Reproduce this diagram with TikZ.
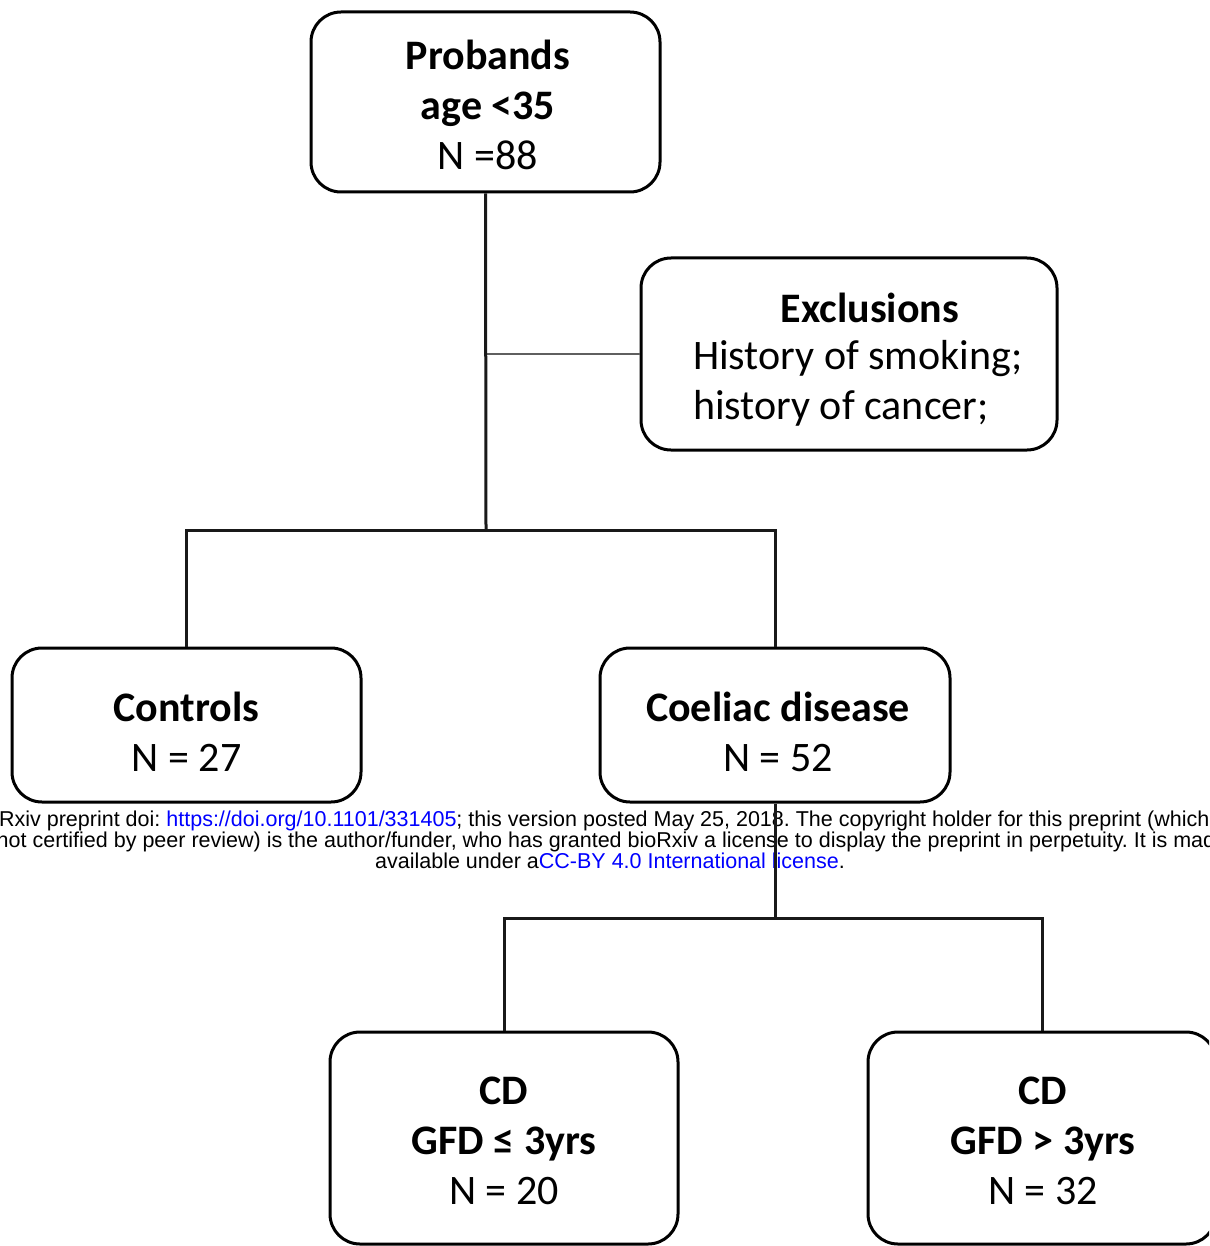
\documentclass[tikz,border=0pt]{standalone}
\usepackage{fontspec}
\setmainfont{Carlito}
\newfontfamily\wmfont{Liberation Sans}
\definecolor{wmblue}{RGB}{0,0,255}
\definecolor{linegray}{RGB}{95,95,95}
\frenchspacing
\begin{document}
\begin{tikzpicture}[x=1pt,y=-1pt,
  box/.style={draw=black, line width=3pt, rounded corners=30pt, fill=white, inner sep=0pt},
  boxtext/.style={align=center, inner sep=0pt, font=\fontsize{42}{50}\selectfont},
  conn/.style={draw=black!90, line width=3pt},
  thinconn/.style={draw=linegray, line width=2pt},
  wm/.style={font=\wmfont\fontsize{21.5}{21}\selectfont, inner sep=0pt, anchor=base}]
\useasboundingbox (0,0) rectangle (1209,1246);
\clip (0,0) rectangle (1209,1246);
% boxes
\node[box, minimum width=349pt, minimum height=180pt] (prob) at (485.5,102) {};
\node[boxtext] (probt) at (488,105) {\textbf{Probands}\\\textbf{age <35}\\N =88};
\node[box, minimum width=416pt, minimum height=192pt] (excl) at (849,354) {};
\node[boxtext, font=\fontsize{42}{50}\selectfont\bfseries] (exct) at (870,308) {Exclusions};
\node[boxtext, anchor=west, align=left] (exl) at (693,383)
  {History of smoking;\\history of cancer;};
\node[box, minimum width=349pt, minimum height=154pt] (ctrl) at (186.5,725) {};
\node[boxtext] (ctrlt) at (186.5,732) {\textbf{Controls}\\N = 27};
\node[box, minimum width=350pt, minimum height=154pt] (coel) at (775,725) {};
\node[boxtext] (coelt) at (778,732) {\textbf{Coeliac disease}\\N = 52};
\node[box, minimum width=348pt, minimum height=212pt] (cd1) at (504,1138) {};
\node[boxtext] (cd1t) at (504,1141) {\textbf{CD}\\\textbf{GFD ≤ 3yrs}\\N = 20};
\node[box, minimum width=348pt, minimum height=212pt] (cd2) at (1042,1138) {};
\node[boxtext] (cd2t) at (1043,1141) {\textbf{CD}\\\textbf{GFD > 3yrs}\\N = 32};
% watermark
\node[wm] (wm1) at (612,826) {bioRxiv preprint doi: \textcolor{wmblue}{https://doi.org/10.1101/331405}; this version posted May 25, 2018. The copyright holder for this preprint (which was};
\node[wm] (wm2) at (612,847) {not certified by peer review) is the author/funder, who has granted bioRxiv a license to display the preprint in perpetuity. It is made};
\node[wm] (wm3) at (610,868) {available under a\textcolor{wmblue}{CC-BY 4.0 International license}.};
% connectors
\coordinate (j1) at (486,530);
\coordinate (j2) at (775,918);
\draw[thinconn] (prob.south |- excl.west) -- (excl.west);
\draw[conn] (prob.south) -- (j1);
\draw[conn] (ctrl.north) -- (ctrl.north |- j1) -- (coel.north |- j1) -- (coel.north);
\draw[conn] (coel.south) -- (j2);
\draw[conn] (cd1.north) -- (cd1.north |- j2) -- (cd2.north |- j2) -- (cd2.north);
\end{tikzpicture}
\end{document}
